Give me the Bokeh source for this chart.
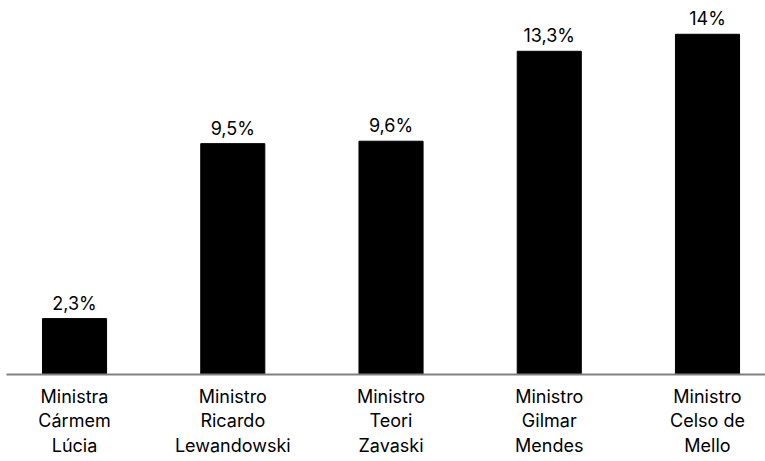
from bokeh.plotting import figure
from bokeh.models import ColumnDataSource, Range1d, FixedTicker, LabelSet
from bokeh.core.properties import value
from bokeh.embed import file_html
from bokeh.resources import INLINE

categories = ["Ministra\nCármem\nLúcia", "Ministro\nRicardo\nLewandowski", "Ministro\nTeori\nZavaski",
              "Ministro\nGilmar\nMendes", "Ministro\nCelso de\nMello"]
values = [2.3, 9.5, 9.6, 13.3, 14.0]
value_labels = ["2,3%", "9,5%", "9,6%", "13,3%", "14%"]

FONT = "Inter"
xs = list(range(len(categories)))
src = ColumnDataSource(dict(x=xs, top=values, lab=value_labels))

p = figure(width=765, height=461, output_backend="svg", toolbar_location=None,
           x_range=Range1d(-0.43, 4.3665), y_range=Range1d(0, 15.39),
           min_border_left=6, min_border_right=0, min_border_top=0, min_border_bottom=87)
p.vbar(x="x", top="top", width=0.405, source=src, color="black")
p.add_layout(LabelSet(x="x", y="top", text="lab", source=src, text_align="center",
                      text_baseline="bottom", y_offset=5, text_font=value(FONT),
                      text_font_size="18px", text_color="black"))

p.outline_line_color = None
p.grid.grid_line_color = None
p.yaxis.visible = False
ax = p.xaxis[0]
ax.ticker = FixedTicker(ticks=xs)
ax.major_label_overrides = {i: c for i, c in enumerate(categories)}
ax.axis_line_color = "#808080"
ax.axis_line_width = 2
ax.major_tick_line_color = None
ax.minor_tick_line_color = None
ax.major_label_text_font = FONT
ax.major_label_text_font_size = "18px"
ax.major_label_text_color = "black"
ax.major_label_text_line_height = 1.17
ax.major_label_standoff = 5

open("out.html", "w").write(file_html(p, INLINE))
